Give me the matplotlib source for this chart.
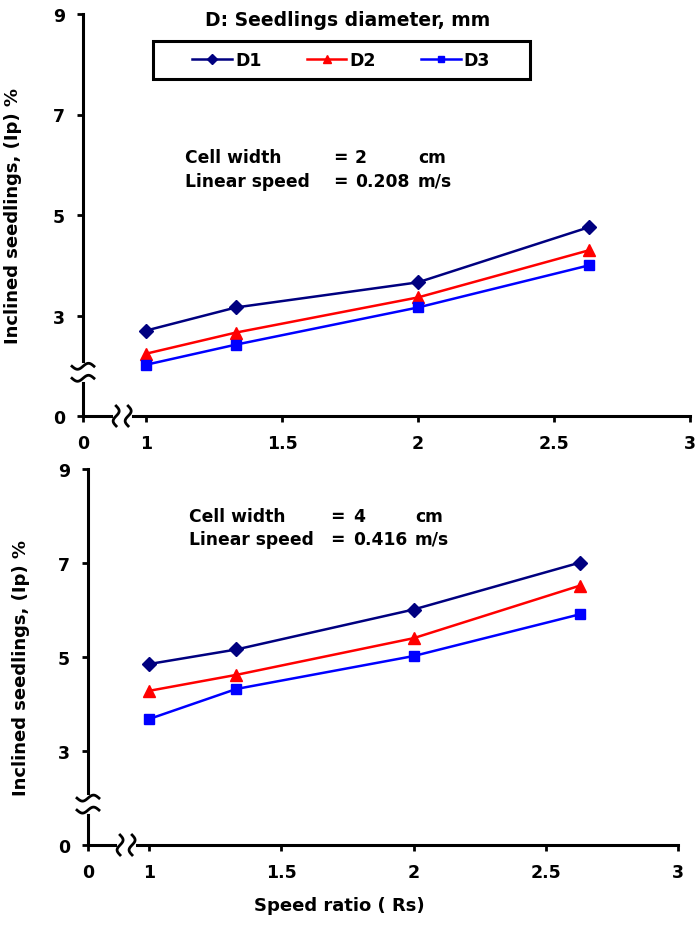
import numpy as np
import matplotlib
matplotlib.use("Agg")
import matplotlib.pyplot as plt
from matplotlib.lines import Line2D
from matplotlib.patches import Rectangle
from matplotlib.transforms import IdentityTransform

# ---------------- data ----------------
speed_ratio = [1.0, 1.33, 2.0, 2.63]

# upper panel: cell width 2 cm, linear speed 0.208 m/s
top_d1 = [2.70, 3.16, 3.66, 4.76]
top_d2 = [2.24, 2.66, 3.36, 4.30]
top_d3 = [2.02, 2.42, 3.16, 4.00]

# lower panel: cell width 4 cm, linear speed 0.416 m/s
bot_d1 = [4.85, 5.16, 6.01, 7.01]
bot_d2 = [4.28, 4.62, 5.40, 6.52]
bot_d3 = [3.68, 4.32, 5.02, 5.91]

series_names = ["D1", "D2", "D3"]
series_colors = ["#000080", "#FF0000", "#0000FF"]
series_markers = ["D", "^", "s"]
series_msize = [7, 8, 7]

# axis is broken: "0" sits where 1 would be
y_ticks = [1, 3, 5, 7, 9]
y_ticklabels = ["0", "3", "5", "7", "9"]
x_ticks = [1, 1.5, 2, 2.5, 3]
x_ticklabels = ["1", "1.5", "2", "2.5", "3"]

W, H = 697, 928
plt.rcParams["font.family"] = ["DejaVu Sans"]
plt.rcParams["font.weight"] = "bold"

fig = plt.figure(figsize=(W / 100, H / 100), dpi=100)


def px_axes(left, right, top, bottom):
    # axes box from pixel edges
    return fig.add_axes([left / W, 1 - bottom / H, (right - left) / W, (bottom - top) / H])


def style_axes(ax, x0):
    ax.set_xlim(x0, 3)
    ax.set_ylim(1, 9)
    for s in ["top", "right"]:
        ax.spines[s].set_visible(False)
    for s in ["left", "bottom"]:
        ax.spines[s].set_linewidth(2.2)
    ax.set_xticks([x0] + x_ticks)
    ax.set_xticklabels(["0"] + x_ticklabels)
    ax.set_yticks(y_ticks)
    ax.set_yticklabels(y_ticklabels)
    ax.tick_params(direction="out", length=4, width=2, labelsize=12.5, pad=9)
    for lab in ax.get_xticklabels() + ax.get_yticklabels():
        lab.set_fontweight("bold")


def axis_breaks(ax, xb, yb):
    # wavy break marks on both axes, drawn in pixel space
    t = np.linspace(-1, 1, 40)
    x0 = ax.get_xlim()[0]
    # y-axis break
    cx, cy = ax.transData.transform((x0, yb))
    fig.add_artist(Line2D([cx, cx], [cy - 6, cy + 6], color="white", lw=5,
                          transform=IdentityTransform(), zorder=5))
    for off in (-6, 6):
        fig.add_artist(Line2D(cx + 11 * t, cy + off + 3 * np.sin(np.pi * t), color="black",
                              lw=2, transform=IdentityTransform(), zorder=6))
    # x-axis break
    cx, cy = ax.transData.transform((xb, 1))
    fig.add_artist(Line2D([cx - 6, cx + 6], [cy, cy], color="white", lw=5,
                          transform=IdentityTransform(), zorder=5))
    for off in (-6, 6):
        fig.add_artist(Line2D(cx + off + 3 * np.sin(np.pi * t), cy + 10 * t, color="black",
                              lw=2, transform=IdentityTransform(), zorder=6))


def draw_series(ax, data):
    lines = []
    for vals, name, c, m, ms in zip(data, series_names, series_colors, series_markers, series_msize):
        ln, = ax.plot(speed_ratio, vals, color=c, lw=1.8, marker=m, ms=ms, label=name,
                      clip_on=False, zorder=3)
        lines.append(ln)
    return lines


def info_text(y1, y2, xs, width_val, speed_val):
    fig.text(xs[0] / W, 1 - y1 / H, "Cell width", fontsize=12.3, va="center")
    fig.text(xs[0] / W, 1 - y2 / H, "Linear speed", fontsize=12.3, va="center")
    for y, v, u in [(y1, width_val, "cm"), (y2, speed_val, "m/s")]:
        fig.text(xs[1] / W, 1 - y / H, "=", fontsize=12.3, va="center")
        fig.text(xs[2] / W, 1 - y / H, v, fontsize=12.3, va="center")
        fig.text(xs[3] / W, 1 - y / H, u, fontsize=12.3, va="center")


# ---------------- upper panel ----------------
ax1 = px_axes(83, 690, 15, 417)
style_axes(ax1, 0.768)
handles = draw_series(ax1, [top_d1, top_d2, top_d3])
ax1.set_ylabel("Inclined seedlings, (Ip) %", fontsize=13, fontweight="bold")
ax1.yaxis.set_label_coords(22 / W, 1 - 216 / H, transform=fig.transFigure)
info_text(158, 182, [185, 333, 355, 418], "2", "0.208")

# legend with its own frame and title above
fig.text(348 / W, 1 - 20 / H, "D: Seedlings diameter, mm", fontsize=13.5, ha="center", va="center")
fig.add_artist(Rectangle((153 / W, 1 - 80 / H), 377 / W, 38 / H, transform=fig.transFigure,
                         fill=False, edgecolor="black", lw=2.2))
fig.legend(handles=handles, loc="center", bbox_to_anchor=(341 / W, 1 - 61 / H), ncol=3,
           frameon=False, handlelength=2.3, handletextpad=0.15,
           columnspacing=2.6, markerscale=0.7, prop={"weight": "bold", "size": 12.5})

# ---------------- lower panel ----------------
ax2 = px_axes(88, 678, 470, 846)
style_axes(ax2, 0.769)
draw_series(ax2, [bot_d1, bot_d2, bot_d3])
ax2.set_ylabel("Inclined seedlings, (Ip) %", fontsize=13, fontweight="bold")
ax2.yaxis.set_label_coords(30 / W, 1 - 668 / H, transform=fig.transFigure)
ax2.set_xlabel("Speed ratio ( Rs)", fontsize=13, fontweight="bold")
ax2.xaxis.set_label_coords(339 / W, 1 - 897 / H, transform=fig.transFigure)
info_text(517, 540, [189, 330, 353, 415], "4", "0.416")

axis_breaks(ax1, 0.912, 1.87)
axis_breaks(ax2, 0.913, 1.87)

fig.savefig("out.png", dpi=100)
